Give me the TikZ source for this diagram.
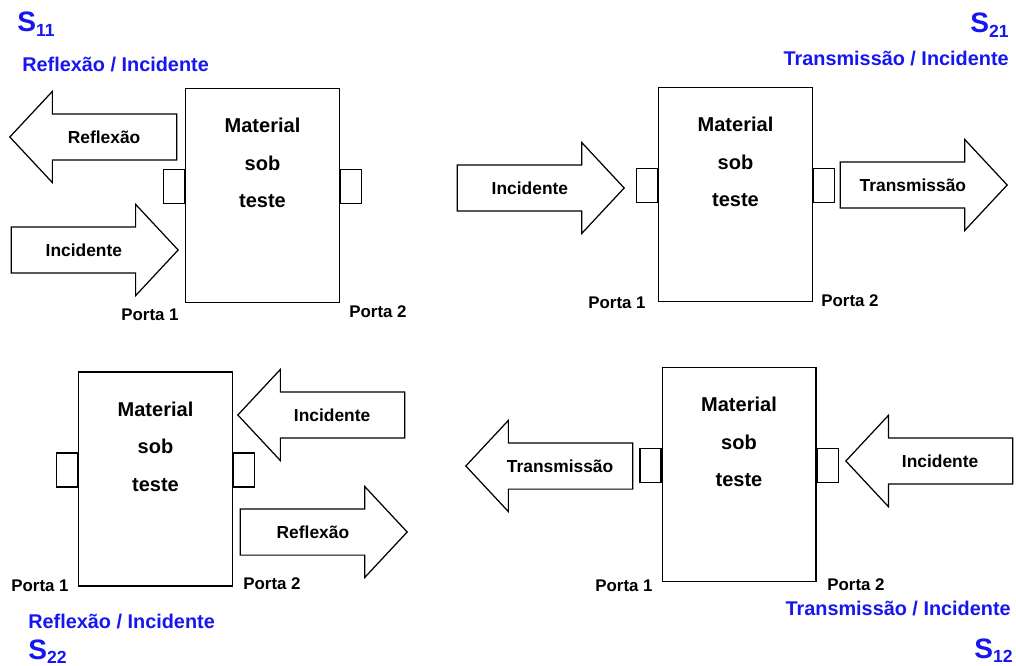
\documentclass[tikz,border=0pt]{standalone}
\usepackage{fontspec}
\setmainfont{Liberation Sans}
\usetikzlibrary{shapes.arrows}
\definecolor{sblue}{RGB}{22,22,240}
\tikzset{
  mat/.style={draw, line width=0.6pt, minimum width=3.08cm, minimum height=4.28cm},
  matlabel/.style={font=\fontsize{11.4}{21.3}\selectfont\bfseries, align=center, inner sep=0pt},
  porto/.style={draw, line width=0.6pt, minimum width=0.42cm, minimum height=0.68cm},
  onda/.style={single arrow, draw, line width=0.7pt, minimum height=3.34cm, minimum width=1.8cm,
    single arrow head extend=0.45cm, single arrow tip angle=94, inner sep=0pt,
    text height=0.573cm, text depth=0.327cm, text width=2.2cm, align=center,
    font=\fontsize{9.9}{12}\selectfont\bfseries},
  porta/.style={font=\fontsize{9.6}{11}\selectfont\bfseries, inner sep=0pt, anchor=base},
  razao/.style={text=sblue, font=\fontsize{11.3}{13}\selectfont\bfseries, inner sep=0pt},
  param/.style={text=sblue, font=\fontsize{16}{18}\selectfont\bfseries, inner sep=0pt},
}
\newcommand{\sparam}[1]{S\raisebox{-2.3pt}{\fontsize{10}{12}\selectfont #1}}
\begin{document}
\begin{tikzpicture}[x=0.02cm, y=-0.02cm]
\useasboundingbox (0,0) rectangle (1016,665);

% S11
\node[mat] (m1) at (262.5,195.5) {};
\node[matlabel] (t1) at ([yshift=-1.5cm]m1.north) {Material\\sob\\teste};
\node[porto, anchor=east] (m1a) at ([yshift=0.18cm]m1.west) {};
\node[porto, anchor=west] (m1b) at ([yshift=0.18cm]m1.east) {};
\node[onda, shape border rotate=180, anchor=tip] (r1) at (9,137) {Reflexão};
\node[onda, anchor=tip] (i1) at (179,250) {Incidente};
\node[porta] (p11) at (150,320) {Porta 1};
\node[porta] (p12) at (378,317) {Porta 2};
\node[razao, anchor=base west] (q1) at (22,72) {Reflexão / Incidente};
\node[param, anchor=base west] (s11) at (17,32) {\sparam{11}};

% S21
\node[mat] (m2) at (735.5,194.5) {};
\node[matlabel] (t2) at ([yshift=-1.5cm]m2.north) {Material\\sob\\teste};
\node[porto, anchor=east] (m2a) at ([yshift=0.18cm]m2.west) {};
\node[porto, anchor=west] (m2b) at ([yshift=0.18cm]m2.east) {};
\node[onda, anchor=tip] (i2) at (625,188) {Incidente};
\node[onda, anchor=tip] (tr2) at (1008,185) {Transmissão};
\node[porta] (p21) at (617,308) {Porta 1};
\node[porta] (p22) at (850,306) {Porta 2};
\node[razao, anchor=base east] (q2) at (1009,66) {Transmissão / Incidente};
\node[param, anchor=base east] (s21) at (1009,33) {\sparam{21}};

% S22
\node[mat] (m3) at (155.5,479) {};
\node[matlabel] (t3) at ([yshift=-1.5cm]m3.north) {Material\\sob\\teste};
\node[porto, anchor=east] (m3a) at ([yshift=0.18cm]m3.west) {};
\node[porto, anchor=west] (m3b) at ([yshift=0.18cm]m3.east) {};
\node[onda, shape border rotate=180, anchor=tip] (i3) at (237,415) {Incidente};
\node[onda, anchor=tip] (r3) at (408,532) {Reflexão};
\node[porta] (p31) at (40,591) {Porta 1};
\node[porta] (p32) at (272,589) {Porta 2};
\node[razao, anchor=base west] (q3) at (28,628) {Reflexão / Incidente};
\node[param, anchor=base west] (s22) at (28,659) {\sparam{22}};

% S12
\node[mat] (m4) at (739,474.5) {};
\node[matlabel] (t4) at ([yshift=-1.5cm]m4.north) {Material\\sob\\teste};
\node[porto, anchor=east] (m4a) at ([yshift=0.18cm]m4.west) {};
\node[porto, anchor=west] (m4b) at ([yshift=0.18cm]m4.east) {};
\node[onda, shape border rotate=180, anchor=tip] (tr4) at (465,466) {Transmissão};
\node[onda, shape border rotate=180, anchor=tip] (i4) at (845,461) {Incidente};
\node[porta] (p41) at (624,591) {Porta 1};
\node[porta] (p42) at (856,590) {Porta 2};
\node[razao, anchor=base east] (q4) at (1011,615) {Transmissão / Incidente};
\node[param, anchor=base east] (s12) at (1013,658) {\sparam{12}};
\end{tikzpicture}
\end{document}
